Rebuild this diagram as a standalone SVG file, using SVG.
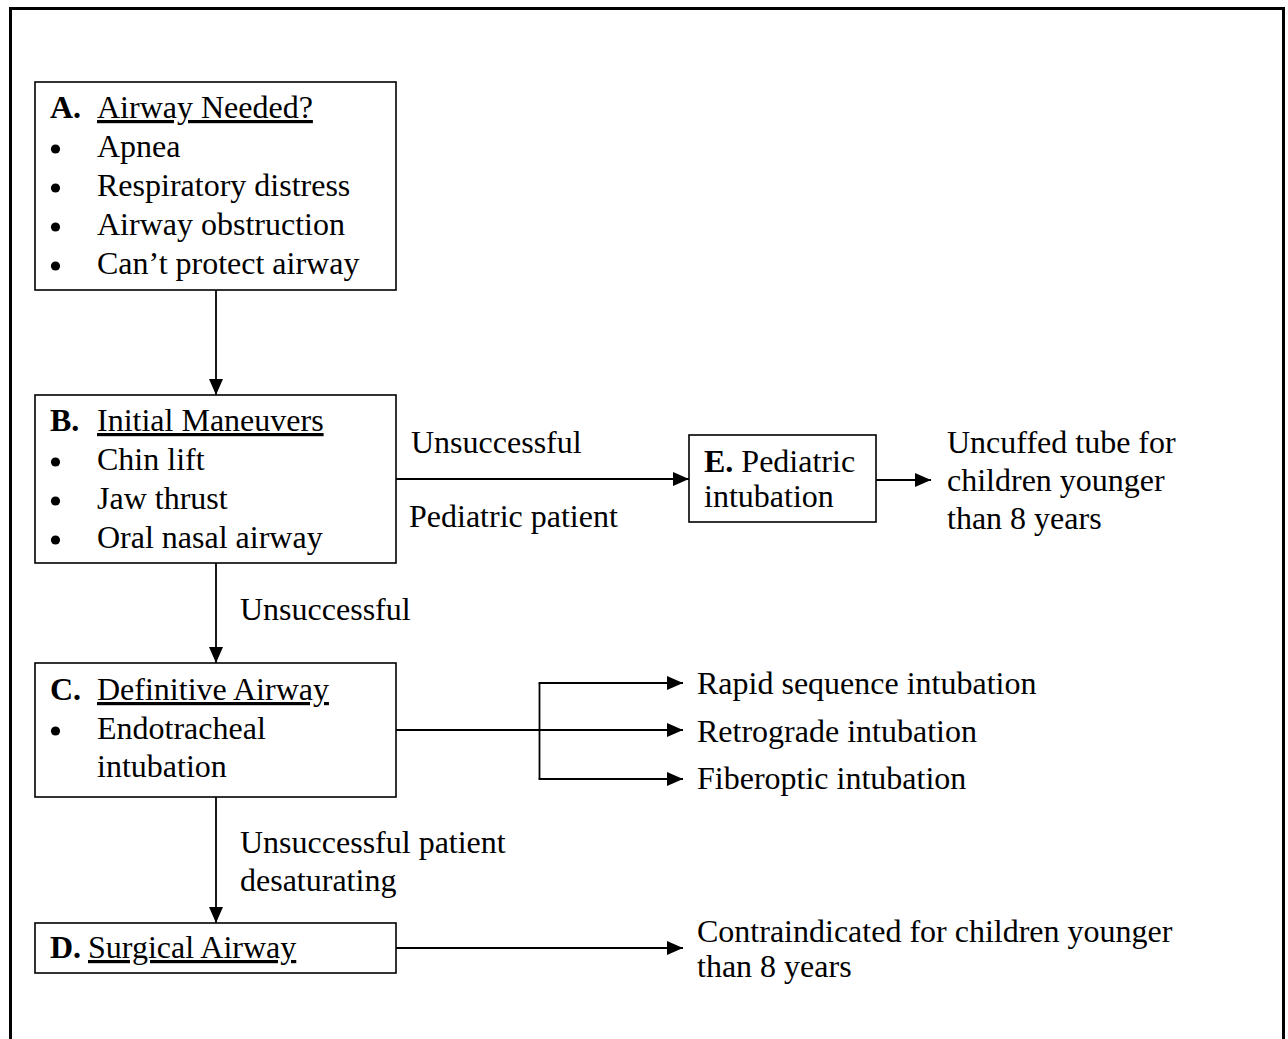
<svg xmlns="http://www.w3.org/2000/svg" width="1288" height="1039" viewBox="0 0 1288 1039">
  <style>
    text { font-family: "Liberation Serif", "Times New Roman", serif; font-size: 32px; fill: #000; }
    .b { font-weight: bold; }
    .u { text-decoration: underline; }
    .box { fill: #fff; stroke: #000; stroke-width: 1.6; }
    .ln { fill: none; stroke: #000; stroke-width: 1.8; }
    .dot { fill: #000; }
  </style>
  <defs>
    <marker id="arr" markerUnits="userSpaceOnUse" markerWidth="16" markerHeight="14" refX="16" refY="7" orient="auto">
      <polygon points="0,0 16,7 0,14" fill="#000"/>
    </marker>
    <circle id="bullet" class="dot" r="4.6"/>
  </defs>
  <rect width="1288" height="1039" fill="#fff"/>

  <!-- outer frame (open at the bottom) -->
  <path d="M10.5,1045 V8.5 H1283.5 V1045" fill="none" stroke="#000" stroke-width="3"/>

  <!-- connectors -->
  <g id="connectors">
    <line class="ln" x1="216" y1="290" x2="216" y2="395" marker-end="url(#arr)"/>
    <line class="ln" x1="216" y1="563" x2="216" y2="663" marker-end="url(#arr)"/>
    <line class="ln" x1="216" y1="797" x2="216" y2="923" marker-end="url(#arr)"/>
    <line class="ln" x1="396" y1="479" x2="689" y2="479" marker-end="url(#arr)"/>
    <line class="ln" x1="876" y1="480" x2="931" y2="480" marker-end="url(#arr)"/>
    <line class="ln" x1="396" y1="730" x2="683" y2="730" marker-end="url(#arr)"/>
    <line class="ln" x1="539.5" y1="683" x2="539.5" y2="779"/>
    <line class="ln" x1="538.6" y1="683" x2="683" y2="683" marker-end="url(#arr)"/>
    <line class="ln" x1="538.6" y1="779" x2="683" y2="779" marker-end="url(#arr)"/>
    <line class="ln" x1="396" y1="948" x2="683" y2="948" marker-end="url(#arr)"/>
  </g>

  <!-- connector labels -->
  <g id="labels">
    <text x="411" y="453">Unsuccessful</text>
    <text x="409" y="527">Pediatric patient</text>
    <text x="240" y="620">Unsuccessful</text>
    <text x="240" y="853">Unsuccessful patient</text>
    <text x="240" y="891">desaturating</text>
  </g>

  <!-- A -->
  <g id="nodeA">
    <rect class="box" x="35" y="82" width="361" height="208"/>
    <text x="50" y="118" class="b">A.</text>
    <text x="97" y="118" class="u">Airway Needed?</text>
    <use href="#bullet" x="55.5" y="149"/><text x="97" y="157">Apnea</text>
    <use href="#bullet" x="55.5" y="188"/><text x="97" y="196">Respiratory distress</text>
    <use href="#bullet" x="55.5" y="227"/><text x="97" y="235">Airway obstruction</text>
    <use href="#bullet" x="55.5" y="266"/><text x="97" y="274">Can’t protect airway</text>
  </g>

  <!-- B -->
  <g id="nodeB">
    <rect class="box" x="35" y="395" width="361" height="168"/>
    <text x="50" y="431" class="b">B.</text>
    <text x="97" y="431" class="u">Initial Maneuvers</text>
    <use href="#bullet" x="55.5" y="462"/><text x="97" y="470">Chin lift</text>
    <use href="#bullet" x="55.5" y="501"/><text x="97" y="509">Jaw thrust</text>
    <use href="#bullet" x="55.5" y="540"/><text x="97" y="548">Oral nasal airway</text>
  </g>

  <!-- E -->
  <g id="nodeE">
    <rect class="box" x="689" y="435" width="187" height="87"/>
    <text x="704" y="472"><tspan class="b">E.</tspan> Pediatric</text>
    <text x="704" y="507">intubation</text>
  </g>
  <g id="noteE">
    <text x="947" y="453">Uncuffed tube for</text>
    <text x="947" y="491">children younger</text>
    <text x="947" y="529">than 8 years</text>
  </g>

  <!-- C -->
  <g id="nodeC">
    <rect class="box" x="35" y="663" width="361" height="134"/>
    <text x="50" y="700" class="b">C.</text>
    <text x="97" y="700" class="u">Definitive Airway</text>
    <use href="#bullet" x="55.5" y="731"/><text x="97" y="739">Endotracheal</text>
    <text x="97" y="777">intubation</text>
  </g>
  <g id="optionsC">
    <text x="697" y="694">Rapid sequence intubation</text>
    <text x="697" y="742">Retrograde intubation</text>
    <text x="697" y="789">Fiberoptic intubation</text>
  </g>

  <!-- D -->
  <g id="nodeD">
    <rect class="box" x="35" y="923" width="361" height="50"/>
    <text x="50" y="958" class="b">D.</text>
    <text x="88" y="958" class="u">Surgical Airway</text>
  </g>
  <g id="noteD">
    <text x="697" y="942">Contraindicated for children younger</text>
    <text x="697" y="977">than 8 years</text>
  </g>
</svg>
